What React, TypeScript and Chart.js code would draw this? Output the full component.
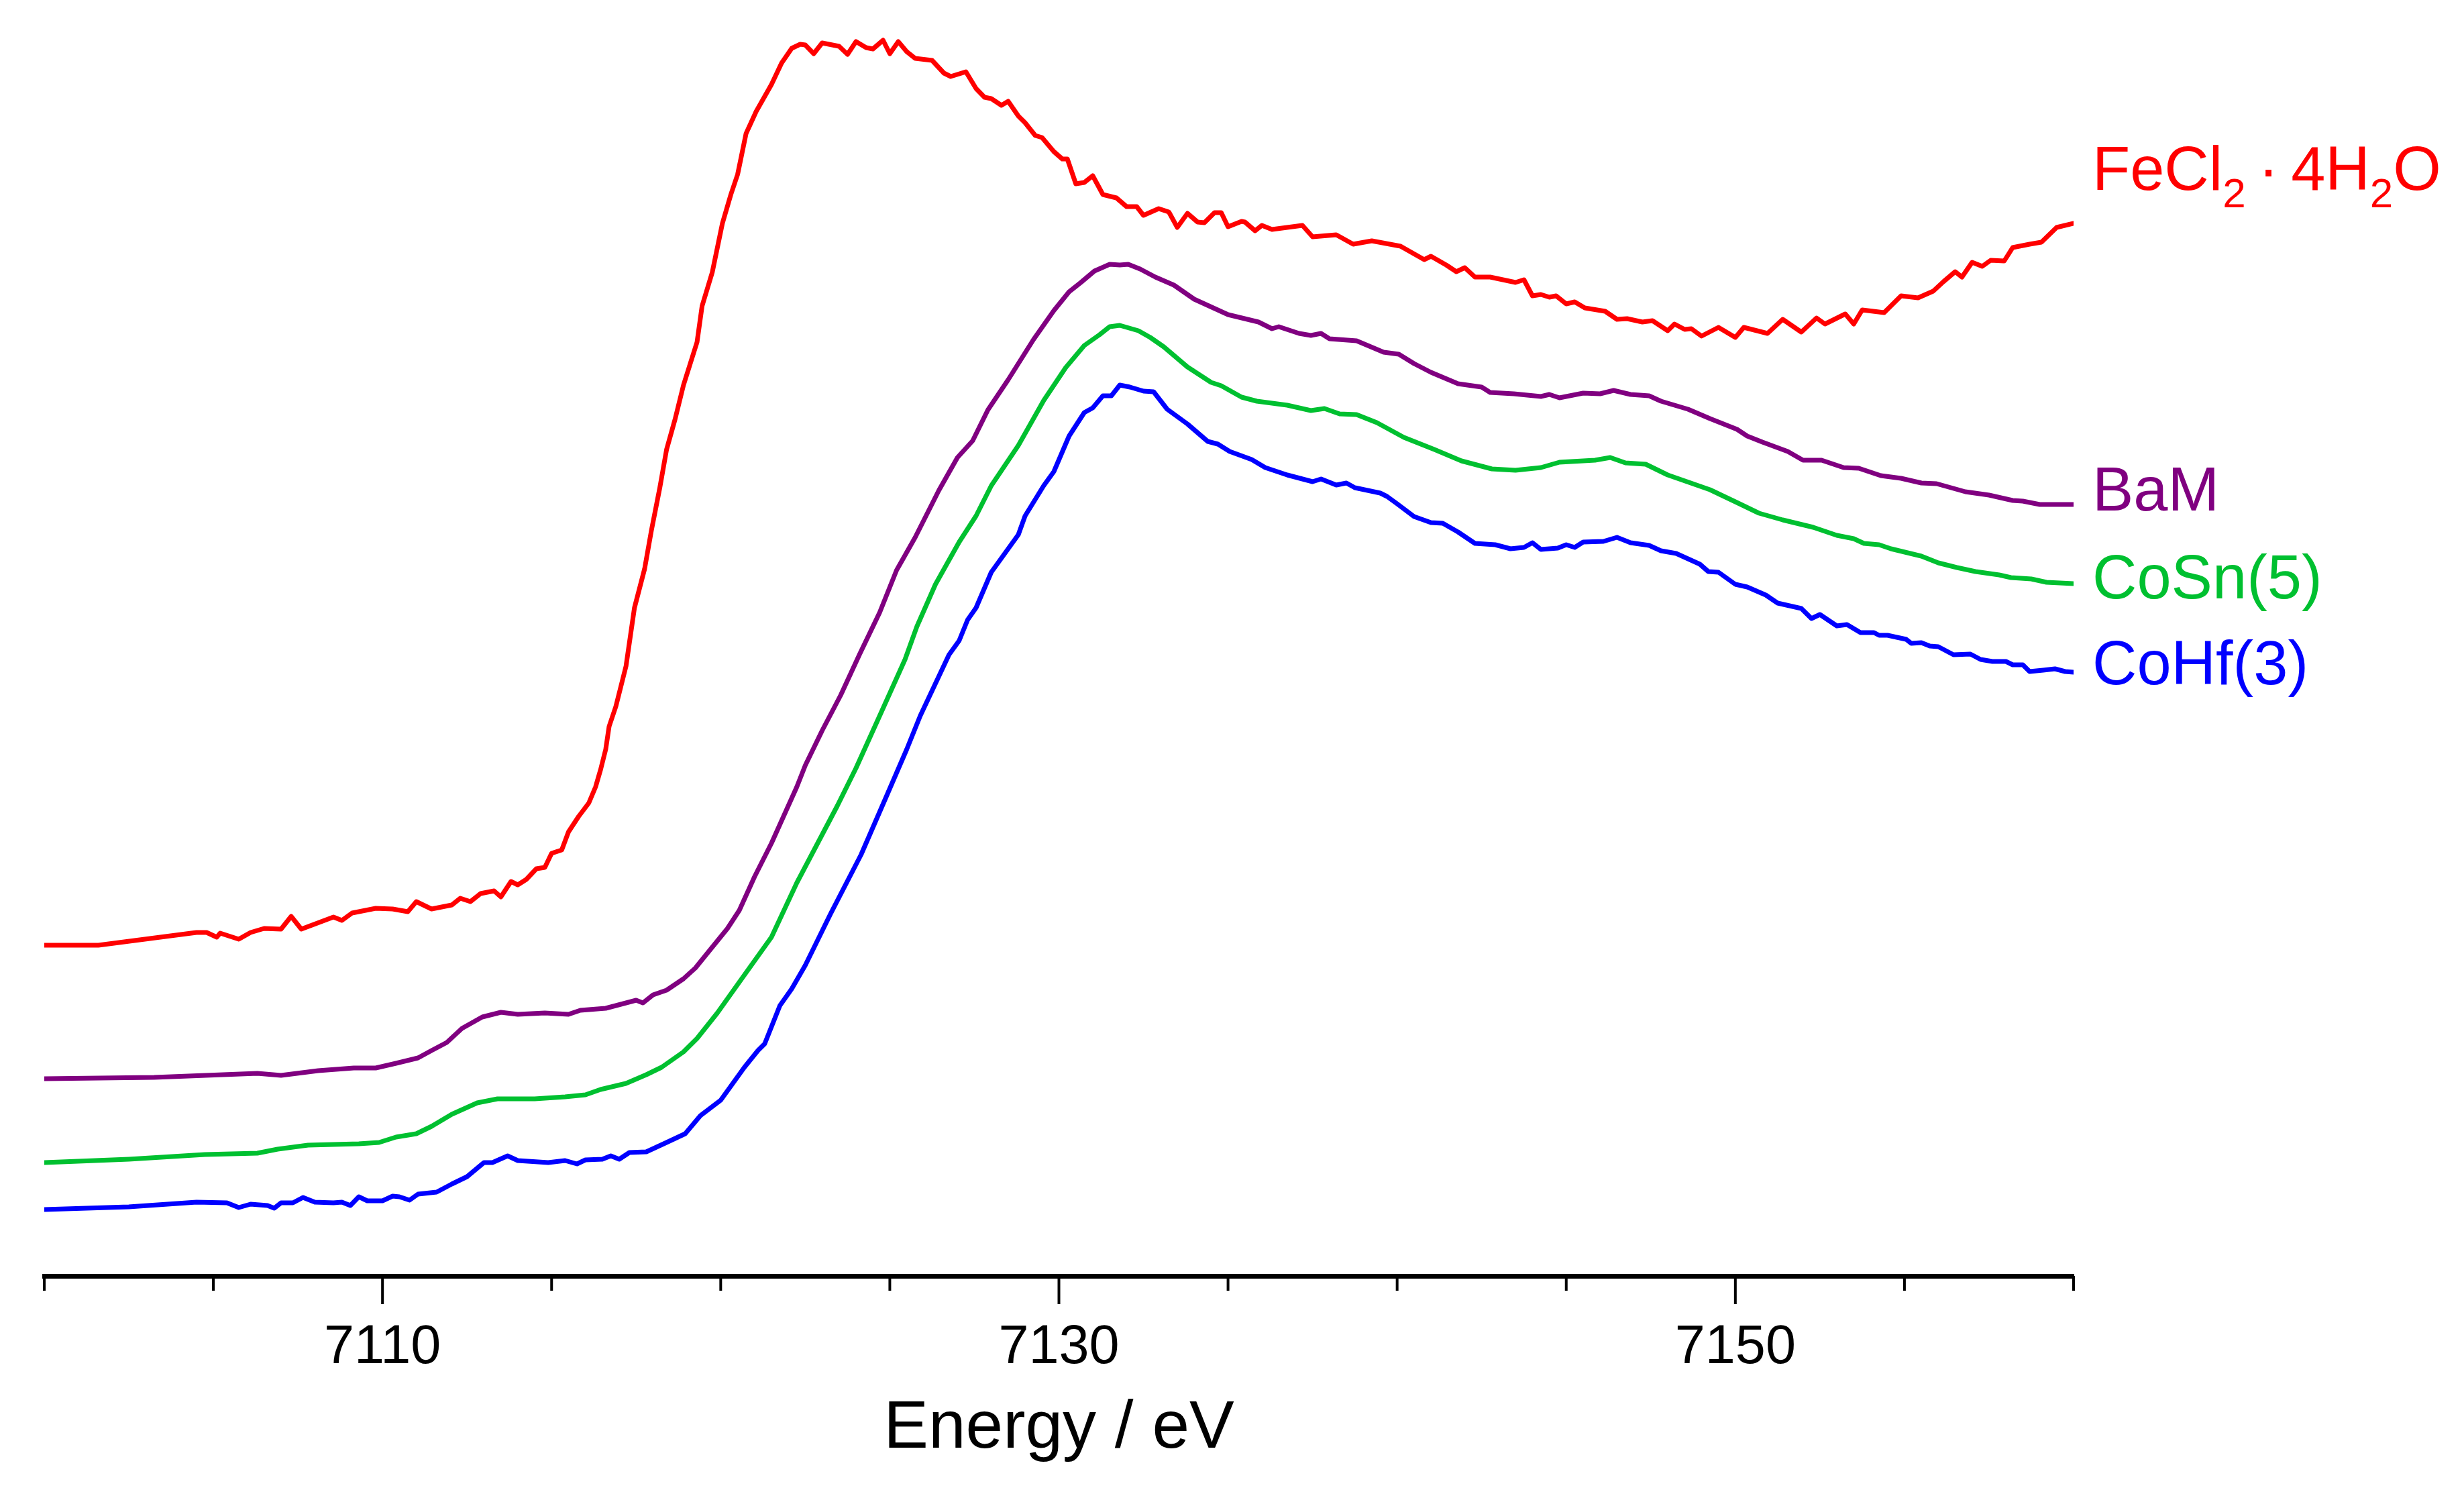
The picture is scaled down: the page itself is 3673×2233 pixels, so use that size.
import { useEffect, useRef } from "react";
import { Chart, registerables } from "chart.js";

Chart.register(...registerables);

// Energy (eV) vs. offset normalised absorbance (a.u.)
const fecl2: [number, number][] = [
  [7100.0,0.493],[7101.6,0.493],[7104.5,0.512],[7104.8,0.512],[7105.1,0.505],[7105.2,0.511],[7105.75,0.502],[7106.1,0.512],[7106.5,0.518],[7107.0,0.517],[7107.3,0.536],[7107.6,0.517],[7108.55,0.535],[7108.8,0.530],[7109.1,0.541],[7109.8,0.548],[7110.3,0.547],[7110.75,0.543],[7111.0,0.558],[7111.45,0.547],[7112.05,0.553],[7112.3,0.563],[7112.6,0.558],[7112.9,0.570],[7113.3,0.574],[7113.5,0.565],[7113.8,0.588],[7114.0,0.583],[7114.25,0.591],[7114.55,0.607],[7114.8,0.609],[7115.0,0.630],[7115.3,0.635],[7115.5,0.662],[7115.8,0.685],[7116.1,0.705],[7116.3,0.729],[7116.45,0.755],[7116.6,0.785],[7116.7,0.819],[7116.9,0.849],[7117.05,0.879],[7117.2,0.909],[7117.45,0.996],[7117.75,1.054],[7117.95,1.111],[7118.2,1.175],[7118.4,1.232],[7118.65,1.277],[7118.9,1.328],[7119.1,1.360],[7119.3,1.392],[7119.45,1.446],[7119.75,1.496],[7120.05,1.569],[7120.3,1.612],[7120.5,1.642],[7120.75,1.703],[7121.05,1.736],[7121.5,1.776],[7121.8,1.808],[7122.1,1.830],[7122.35,1.836],[7122.5,1.835],[7122.75,1.822],[7123.0,1.838],[7123.5,1.833],[7123.75,1.821],[7124.0,1.840],[7124.3,1.831],[7124.5,1.829],[7124.8,1.842],[7125.0,1.822],[7125.25,1.840],[7125.5,1.825],[7125.75,1.815],[7126.25,1.812],[7126.6,1.793],[7126.8,1.788],[7127.25,1.795],[7127.55,1.770],[7127.8,1.757],[7128.0,1.755],[7128.3,1.745],[7128.5,1.751],[7128.8,1.729],[7129.0,1.719],[7129.3,1.700],[7129.5,1.697],[7129.85,1.676],[7130.1,1.665],[7130.25,1.665],[7130.5,1.628],[7130.75,1.630],[7131.0,1.640],[7131.3,1.612],[7131.7,1.607],[7132.0,1.594],[7132.3,1.594],[7132.5,1.581],[7132.95,1.591],[7133.25,1.586],[7133.5,1.563],[7133.8,1.584],[7134.1,1.571],[7134.3,1.570],[7134.6,1.585],[7134.8,1.585],[7135.0,1.564],[7135.4,1.572],[7135.5,1.571],[7135.8,1.558],[7136.0,1.566],[7136.3,1.560],[7137.2,1.566],[7137.5,1.549],[7138.2,1.552],[7138.7,1.538],[7139.25,1.543],[7140.1,1.535],[7140.8,1.515],[7141.0,1.520],[7141.45,1.507],[7141.75,1.497],[7142.0,1.503],[7142.3,1.489],[7142.75,1.489],[7143.5,1.481],[7143.75,1.485],[7144.0,1.461],[7144.25,1.463],[7144.5,1.459],[7144.7,1.461],[7145.0,1.449],[7145.25,1.452],[7145.55,1.443],[7146.15,1.438],[7146.5,1.426],[7146.8,1.427],[7147.25,1.422],[7147.55,1.424],[7148.0,1.409],[7148.2,1.419],[7148.5,1.411],[7148.7,1.412],[7149.0,1.401],[7149.5,1.414],[7150.0,1.399],[7150.25,1.414],[7150.95,1.405],[7151.4,1.426],[7151.95,1.407],[7152.4,1.428],[7152.65,1.419],[7153.25,1.434],[7153.5,1.419],[7153.75,1.440],[7154.4,1.436],[7154.9,1.461],[7155.4,1.458],[7155.85,1.468],[7156.15,1.482],[7156.5,1.497],[7156.7,1.489],[7157.0,1.511],[7157.3,1.505],[7157.55,1.514],[7157.95,1.513],[7158.2,1.533],[7158.7,1.538],[7159.05,1.541],[7159.5,1.563],[7160.0,1.569],
];

const bam: [number, number][] = [
  [7100.0,0.294],[7103.25,0.296],[7106.3,0.302],[7107.0,0.299],[7108.1,0.306],[7109.15,0.310],[7109.8,0.310],[7110.4,0.317],[7111.05,0.325],[7111.45,0.336],[7111.9,0.348],[7112.35,0.369],[7112.95,0.386],[7113.5,0.393],[7114.0,0.390],[7114.8,0.392],[7115.5,0.390],[7115.85,0.396],[7116.6,0.399],[7117.05,0.405],[7117.5,0.411],[7117.7,0.407],[7118.0,0.419],[7118.4,0.426],[7118.9,0.443],[7119.25,0.459],[7119.7,0.487],[7120.2,0.518],[7120.55,0.545],[7121.0,0.595],[7121.5,0.645],[7122.25,0.729],[7122.5,0.761],[7123.0,0.813],[7123.55,0.866],[7124.1,0.926],[7124.7,0.989],[7125.2,1.052],[7125.75,1.101],[7126.45,1.171],[7127.0,1.220],[7127.45,1.245],[7127.9,1.291],[7128.5,1.336],[7129.25,1.396],[7129.85,1.439],[7130.3,1.467],[7130.65,1.481],[7131.05,1.498],[7131.5,1.508],[7131.8,1.507],[7132.05,1.508],[7132.4,1.501],[7132.85,1.489],[7133.4,1.477],[7134.0,1.456],[7135.0,1.433],[7135.9,1.422],[7136.3,1.412],[7136.5,1.415],[7137.1,1.405],[7137.45,1.402],[7137.75,1.405],[7138.0,1.397],[7138.8,1.394],[7139.6,1.377],[7140.05,1.374],[7140.5,1.360],[7141.0,1.347],[7141.8,1.330],[7142.5,1.325],[7142.75,1.317],[7143.45,1.315],[7144.25,1.311],[7144.5,1.314],[7144.8,1.309],[7145.5,1.316],[7146.0,1.315],[7146.4,1.320],[7146.9,1.314],[7147.45,1.312],[7147.8,1.304],[7148.6,1.292],[7149.25,1.278],[7149.6,1.271],[7150.05,1.262],[7150.35,1.252],[7150.8,1.243],[7151.55,1.229],[7152.0,1.216],[7152.55,1.216],[7153.2,1.205],[7153.65,1.204],[7154.3,1.193],[7154.9,1.189],[7155.5,1.182],[7155.95,1.181],[7156.8,1.169],[7157.5,1.164],[7158.2,1.156],[7158.5,1.155],[7159.0,1.150],[7160.0,1.150],
];

const cosn5: [number, number][] = [
  [7100.0,0.169],[7102.5,0.174],[7104.75,0.181],[7106.3,0.183],[7106.9,0.189],[7107.8,0.195],[7109.3,0.197],[7109.9,0.199],[7110.4,0.207],[7111.0,0.212],[7111.45,0.223],[7112.05,0.241],[7112.8,0.258],[7113.4,0.264],[7114.5,0.264],[7115.4,0.267],[7116.0,0.270],[7116.45,0.278],[7117.2,0.287],[7117.8,0.300],[7118.25,0.311],[7118.9,0.334],[7119.3,0.354],[7119.9,0.392],[7120.55,0.438],[7121.5,0.505],[7122.25,0.586],[7123.45,0.701],[7124.0,0.757],[7124.7,0.835],[7125.45,0.919],[7125.8,0.968],[7126.35,1.031],[7127.05,1.094],[7127.55,1.133],[7128.0,1.178],[7128.8,1.238],[7129.55,1.305],[7130.2,1.354],[7130.75,1.387],[7131.2,1.403],[7131.5,1.415],[7131.8,1.417],[7132.35,1.409],[7132.7,1.399],[7133.1,1.385],[7133.8,1.355],[7134.5,1.332],[7134.8,1.327],[7135.4,1.310],[7135.85,1.304],[7136.75,1.298],[7137.45,1.290],[7137.85,1.293],[7138.3,1.285],[7138.8,1.284],[7139.4,1.272],[7140.2,1.250],[7141.1,1.232],[7141.9,1.215],[7142.8,1.203],[7143.5,1.201],[7144.25,1.205],[7144.8,1.213],[7145.85,1.216],[7146.3,1.220],[7146.75,1.212],[7147.35,1.210],[7148.0,1.194],[7149.25,1.172],[7150.0,1.154],[7150.7,1.137],[7151.4,1.127],[7152.3,1.116],[7153.0,1.104],[7153.5,1.099],[7153.8,1.092],[7154.25,1.090],[7154.6,1.084],[7155.5,1.073],[7156.0,1.063],[7156.55,1.056],[7157.1,1.050],[7157.8,1.045],[7158.15,1.041],[7158.75,1.039],[7159.2,1.034],[7160.0,1.032],
];

const cohf3: [number, number][] = [
  [7100.0,0.099],[7102.5,0.103],[7104.5,0.110],[7105.4,0.109],[7105.75,0.102],[7106.1,0.107],[7106.6,0.105],[7106.8,0.101],[7107.0,0.109],[7107.35,0.109],[7107.65,0.117],[7108.0,0.110],[7108.55,0.109],[7108.8,0.110],[7109.05,0.105],[7109.3,0.118],[7109.55,0.112],[7110.0,0.112],[7110.3,0.119],[7110.5,0.118],[7110.8,0.113],[7111.05,0.122],[7111.6,0.125],[7112.05,0.137],[7112.5,0.148],[7113.0,0.169],[7113.25,0.169],[7113.7,0.179],[7114.0,0.172],[7114.9,0.169],[7115.4,0.172],[7115.75,0.167],[7116.0,0.173],[7116.5,0.174],[7116.75,0.179],[7117.0,0.174],[7117.3,0.184],[7117.8,0.185],[7118.4,0.199],[7118.95,0.212],[7119.4,0.239],[7120.0,0.262],[7120.7,0.311],[7121.1,0.336],[7121.3,0.346],[7121.75,0.403],[7122.1,0.428],[7122.5,0.463],[7123.25,0.540],[7124.15,0.628],[7124.9,0.715],[7125.5,0.785],[7125.9,0.835],[7126.75,0.926],[7127.05,0.947],[7127.3,0.978],[7127.55,0.996],[7128.0,1.049],[7128.8,1.105],[7129.0,1.133],[7129.55,1.178],[7129.85,1.199],[7130.3,1.252],[7130.75,1.287],[7131.0,1.294],[7131.3,1.312],[7131.55,1.312],[7131.8,1.328],[7132.1,1.325],[7132.5,1.319],[7132.8,1.318],[7133.2,1.292],[7133.8,1.270],[7134.4,1.244],[7134.7,1.240],[7135.05,1.229],[7135.7,1.217],[7136.1,1.205],[7136.75,1.194],[7137.5,1.184],[7137.75,1.188],[7138.2,1.179],[7138.5,1.182],[7138.75,1.175],[7139.5,1.167],[7139.7,1.162],[7140.0,1.151],[7140.5,1.132],[7141.0,1.123],[7141.35,1.122],[7141.8,1.109],[7142.3,1.092],[7142.9,1.090],[7143.35,1.084],[7143.75,1.086],[7144.0,1.093],[7144.25,1.083],[7144.75,1.085],[7145.0,1.090],[7145.25,1.086],[7145.5,1.094],[7146.1,1.095],[7146.5,1.101],[7146.9,1.093],[7147.45,1.089],[7147.8,1.081],[7148.25,1.077],[7148.6,1.069],[7148.95,1.061],[7149.2,1.050],[7149.5,1.049],[7150.0,1.031],[7150.35,1.027],[7150.9,1.015],[7151.25,1.003],[7151.95,0.995],[7152.25,0.980],[7152.5,0.986],[7153.0,0.969],[7153.3,0.971],[7153.7,0.959],[7154.1,0.959],[7154.25,0.955],[7154.5,0.955],[7155.05,0.949],[7155.2,0.943],[7155.5,0.944],[7155.75,0.939],[7156.0,0.938],[7156.45,0.926],[7156.95,0.927],[7157.25,0.919],[7157.6,0.916],[7158.0,0.916],[7158.2,0.911],[7158.5,0.911],[7158.7,0.901],[7159.1,0.903],[7159.45,0.905],[7159.75,0.901],[7160.0,0.900],
];

const seriesNames = ["FeCl2 · 4H2O", "BaM", "CoSn(5)", "CoHf(3)"];
const seriesColors = ["#ff0000", "#800080", "#00c030", "#0000ff"];
// label text segments: [text, isSubscript]
const labelSegments: [string, boolean][][] = [
  [["FeCl", false], ["2", true], ["\u2009·\u2009", false], ["4H", false], ["2", true], ["O", false]],
  [["BaM", false]],
  [["CoSn(5)", false]],
  [["CoHf(3)", false]],
];
// label baseline positions in data units
const labelY = [1.619, 1.141, 1.01, 0.882];

const xMin = 7100;
const xMax = 7160;
const yMin = 0;
const yMax = 1.902;
const tickValues = [7100, 7105, 7110, 7115, 7120, 7125, 7130, 7135, 7140, 7145, 7150, 7155, 7160];
const labeledTicks = [7110, 7130, 7150];
const xTitle = "Energy / eV";

const FONT = '"Liberation Sans", Arial, Helvetica, sans-serif';

export default function App() {
  const ref = useRef<HTMLCanvasElement>(null);

  useEffect(() => {
    const allSeries = [fecl2, bam, cosn5, cohf3];

    const tickPlugin = {
      id: "customTicks",
      afterDraw(chart: any) {
        const sc = chart.scales.x;
        const ctx = chart.ctx;
        const y0 = chart.chartArea.bottom;
        ctx.save();
        ctx.strokeStyle = "#000";
        ctx.lineWidth = 4;
        for (const v of tickValues) {
          const px = sc.getPixelForValue(v);
          const len = labeledTicks.includes(v) ? 42 : 22;
          ctx.beginPath();
          ctx.moveTo(px, y0);
          ctx.lineTo(px, y0 + len);
          ctx.stroke();
        }
        ctx.restore();
      },
    };

    const labelPlugin = {
      id: "seriesLabels",
      afterDraw(chart: any) {
        const ctx = chart.ctx;
        const ys = chart.scales.y;
        const x0 = chart.chartArea.right + 28;
        ctx.save();
        ctx.textBaseline = "alphabetic";
        ctx.textAlign = "left";
        labelSegments.forEach((segs, i) => {
          let x = x0;
          const yb = ys.getPixelForValue(labelY[i]);
          ctx.fillStyle = seriesColors[i];
          for (const [t, sub] of segs) {
            ctx.font = `${sub ? 62 : 92}px ${FONT}`;
            ctx.fillText(t, x, sub ? yb + 26 : yb);
            x += ctx.measureText(t).width;
          }
        });
        ctx.restore();
      },
    };

    const chart = new Chart(ref.current!, {
      type: "line",
      data: {
        datasets: allSeries.map((s, i) => ({
          label: seriesNames[i],
          data: s.map(([x, y]) => ({ x, y })),
          borderColor: seriesColors[i],
          backgroundColor: seriesColors[i],
          borderWidth: 7,
          borderJoinStyle: "round",
          borderCapStyle: "round",
          pointRadius: 0,
          tension: 0,
          fill: false,
        })),
      },
      options: {
        animation: false,
        responsive: true,
        maintainAspectRatio: false,
        devicePixelRatio: 1,
        layout: { padding: { left: 66, right: 582, top: 0, bottom: 0 } },
        plugins: { legend: { display: false }, tooltip: { enabled: false } },
        scales: {
          x: {
            type: "linear",
            min: xMin,
            max: xMax,
            grid: { display: false, drawTicks: false },
            border: { display: true, color: "#000", width: 7 },
            ticks: {
              stepSize: 5,
              autoSkip: false,
              maxRotation: 0,
              padding: 59,
              color: "#000",
              font: { family: FONT, size: 81 },
              callback: (v: any) => (labeledTicks.includes(Number(v)) ? String(v) : ""),
            },
            title: {
              display: true,
              text: xTitle,
              color: "#000",
              font: { family: FONT, size: 100 },
              padding: { top: 0, bottom: 43 },
            },
            afterFit: (s: any) => {
              s.height = 331;
            },
          },
          y: {
            type: "linear",
            display: false,
            min: yMin,
            max: yMax,
          },
        },
      },
      plugins: [tickPlugin, labelPlugin],
    } as any);

    return () => chart.destroy();
  }, []);

  return (
    <div
      style={{
        position: "fixed",
        left: 0,
        top: 0,
        width: 3673,
        height: 2233,
        background: "#fff",
      }}
    >
      <canvas ref={ref} />
    </div>
  );
}
